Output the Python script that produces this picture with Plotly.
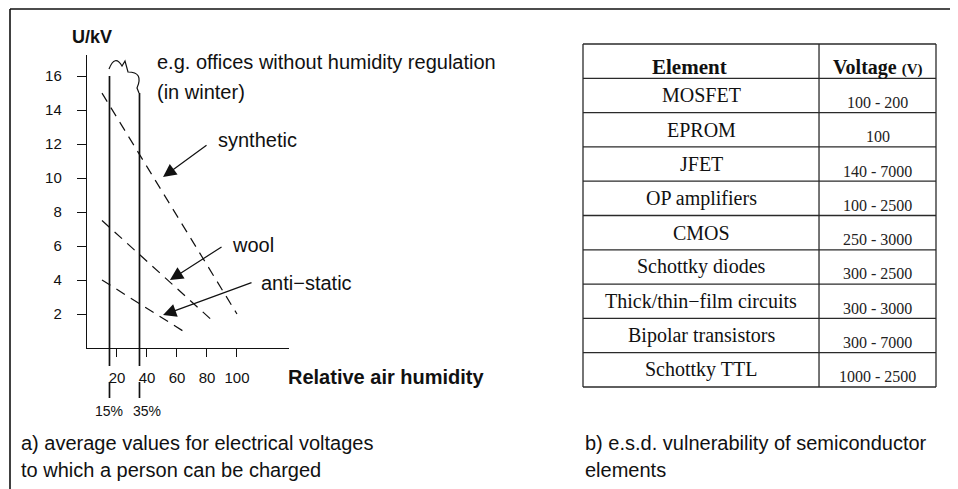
import plotly.graph_objects as go

# ---------------- data ----------------
humidity_ticks = [20, 40, 60, 80, 100]
voltage_ticks = [2, 4, 6, 8, 10, 12, 14, 16]

synthetic_humidity = [10, 100]
synthetic_kv = [15, 2]
wool_humidity = [10, 85]
wool_kv = [7.5, 1.5]
antistatic_humidity = [10, 64]
antistatic_kv = [4, 1]

marker_humidity = [15, 35]
marker_labels = ["15%", "35%"]
marker_top_kv = [16, 15]

curve_labels = ["synthetic", "wool", "anti−static"]
label_pos_humidity = [86, 95.3, 114.7]
label_pos_kv = [12.24, 6.06, 3.82]
arrow_tip_humidity = [50.7, 55.3, 50.7]
arrow_tip_kv = [10.06, 4.0, 1.94]
arrow_tail_humidity = [80.7, 90.7, 110.7]
arrow_tail_kv = [12.0, 6.0, 3.88]

elements = ["MOSFET", "EPROM", "JFET", "OP amplifiers", "CMOS", "Schottky diodes",
            "Thick/thin−film circuits", "Bipolar transistors", "Schottky TTL"]
voltages = ["100 - 200", "100", "140 - 7000", "100 - 2500", "250 - 3000",
            "300 - 2500", "300 - 3000", "300 - 7000", "1000 - 2500"]

# ---------------- layout helpers ----------------
W, H = 958, 489
OFF = 8  # page body margin


def px(x):
    return (x - OFF) / W


def py(y):
    return 1 - (y - OFF) / H


X_RANGE = [0, 134.7]
Y_RANGE = [0, 17.24]
X_DOM = [px(87), px(289)]
Y_DOM = [py(348), py(55)]


def kv_to_paper(v):
    return Y_DOM[0] + (v - Y_RANGE[0]) / (Y_RANGE[1] - Y_RANGE[0]) * (Y_DOM[1] - Y_DOM[0])


SANS = "Liberation Sans, Arial, sans-serif"
SERIF = "Liberation Serif, Times New Roman, serif"
BLACK = "#111111"
FS = 20

fig = go.Figure()

dash = "10px,7px"
for xs, ys, name in [(synthetic_humidity, synthetic_kv, "synthetic"),
                     (wool_humidity, wool_kv, "wool"),
                     (antistatic_humidity, antistatic_kv, "anti-static")]:
    fig.add_trace(go.Scatter(x=xs, y=ys, mode="lines", name=name,
                             line=dict(color=BLACK, width=1.2, dash=dash),
                             hoverinfo="skip", showlegend=False,
                             xaxis="x", yaxis="y"))

shapes = []
annotations = []

# outer frame (top and left)
shapes.append(dict(type="line", xref="paper", yref="paper", x0=px(10), x1=1.0,
                   y0=py(9), y1=py(9), line=dict(color=BLACK, width=1.6)))
shapes.append(dict(type="line", xref="paper", yref="paper", x0=px(10), x1=px(10),
                   y0=py(9), y1=0, line=dict(color=BLACK, width=1.6)))

# humidity marker lines
for hx, top, lab, xs in zip(marker_humidity, marker_top_kv, marker_labels, [0, 8]):
    shapes.append(dict(type="line", xref="x", yref="paper", x0=hx, x1=hx,
                       y0=py(366), y1=kv_to_paper(top), line=dict(color=BLACK, width=1.7)))
    shapes.append(dict(type="line", xref="x", yref="paper", x0=hx, x1=hx,
                       y0=py(382), y1=py(398), line=dict(color=BLACK, width=1.7)))
    annotations.append(dict(x=hx, y=py(411), xref="x", yref="paper", text=lab,
                            showarrow=False, xshift=xs, yanchor="middle",
                            font=dict(family=SANS, size=14, color=BLACK)))

# cloud (winter offices)
cloud_pts = [(109, 69), (115, 54), (122, 66), (125, 61), (128, 72), (144, 72), (137, 88), (139, 93)]
p = [(px(a), py(b)) for a, b in cloud_pts]
cloud_path = (f"M {p[0][0]},{p[0][1]} Q {p[1][0]},{p[1][1]} {p[2][0]},{p[2][1]} "
              f"L {p[3][0]},{p[3][1]} L {p[4][0]},{p[4][1]} "
              f"Q {p[5][0]},{p[5][1]} {p[6][0]},{p[6][1]} L {p[7][0]},{p[7][1]}")
shapes.append(dict(type="path", xref="paper", yref="paper", path=cloud_path,
                   line=dict(color=BLACK, width=1.2)))

# curve labels + arrows
for lab, lx, ly, tx, ty, ax, ay in zip(curve_labels, label_pos_humidity, label_pos_kv,
                                       arrow_tip_humidity, arrow_tip_kv,
                                       arrow_tail_humidity, arrow_tail_kv):
    annotations.append(dict(x=lx, y=ly, xref="x", yref="y", text=lab, showarrow=False,
                            xanchor="left", yanchor="middle",
                            font=dict(family=SANS, size=FS, color=BLACK)))
    annotations.append(dict(x=tx, y=ty, xref="x", yref="y", ax=ax, ay=ay,
                            axref="x", ayref="y", text="", showarrow=True,
                            arrowhead=2, arrowsize=2.2, arrowwidth=1.2,
                            arrowcolor=BLACK, standoff=0, startstandoff=0))


def ptext(x, y, text, size=FS):
    return dict(x=px(x), y=py(y), xref="paper", yref="paper", text=text,
                showarrow=False, xanchor="left", yanchor="middle",
                font=dict(family=SANS, size=size, color=BLACK))


annotations += [
    ptext(70, 37, "<b>U/kV</b>", 18),
    ptext(155, 62, "e.g. offices without humidity regulation"),
    ptext(155, 92, "(in winter)"),
    ptext(286, 377, "<b>Relative air humidity</b>"),
    ptext(19, 443, "a) average values for electrical voltages"),
    ptext(19, 470, "to which a person can be charged"),
    ptext(583, 443, "b) e.s.d. vulnerability of semiconductor"),
    ptext(583, 470, "elements"),
]

# ---------------- table (x2/y2) ----------------
n_rows = len(elements) + 1
col_split = 0.6686
pad_x, pad_y = 0.01, 0.1
tbl_left, tbl_right, tbl_top, tbl_bottom = 583, 936, 44, 387
wpx = (tbl_right - tbl_left) * pad_x
hpx = (tbl_bottom - tbl_top) / n_rows * pad_y
X2_DOM = [px(tbl_left - wpx), px(tbl_right + wpx)]
Y2_DOM = [py(tbl_bottom + hpx), py(tbl_top - hpx)]

TBL_LINE = "#2a2a2a"
for k in range(n_rows + 1):
    shapes.append(dict(type="line", xref="x2", yref="y2", x0=0, x1=1, y0=k, y1=k,
                       line=dict(color=TBL_LINE, width=1.3)))
for xv in [0, col_split, 1]:
    shapes.append(dict(type="line", xref="x2", yref="y2", x0=xv, x1=xv, y0=0, y1=n_rows,
                       line=dict(color=TBL_LINE, width=1.3)))

annotations.append(dict(x=col_split / 2, y=0.5, xref="x2", yref="y2", text="<b>Element</b>",
                        showarrow=False, yshift=-6, xshift=-12,
                        font=dict(family=SERIF, size=21, color=BLACK)))
annotations.append(dict(x=(col_split + 1) / 2, y=0.5, xref="x2", yref="y2",
                        text="<b>Voltage <span style='font-size:15px'>(V)</span></b>",
                        showarrow=False, yshift=-6,
                        font=dict(family=SERIF, size=20, color=BLACK)))
for i, (el, vo) in enumerate(zip(elements, voltages)):
    annotations.append(dict(x=col_split / 2, y=i + 1.5, xref="x2", yref="y2", text=el,
                            showarrow=False, font=dict(family=SERIF, size=20, color=BLACK)))
    annotations.append(dict(x=(col_split + 1) / 2, y=i + 1.5, xref="x2", yref="y2", text=vo,
                            showarrow=False, yshift=-7,
                            font=dict(family=SERIF, size=16, color="#222222")))

fig.add_trace(go.Scatter(x=[0.5], y=[5], mode="markers", marker=dict(opacity=0),
                         hoverinfo="skip", showlegend=False, xaxis="x2", yaxis="y2"))

fig.update_layout(
    width=W, height=H,
    margin=dict(l=0, r=0, t=0, b=0),
    paper_bgcolor="white", plot_bgcolor="white",
    showlegend=False,
    xaxis=dict(domain=X_DOM, range=X_RANGE, showline=True, linecolor=BLACK, linewidth=1.4,
               ticks="outside", ticklen=8, tickwidth=1.2, tickcolor=BLACK,
               tickvals=humidity_ticks, ticktext=[str(v) for v in humidity_ticks],
               ticklabelstandoff=8,
               tickfont=dict(family=SANS, size=15, color=BLACK),
               showgrid=False, zeroline=False, fixedrange=True, anchor="y"),
    yaxis=dict(domain=Y_DOM, range=Y_RANGE, showline=True, linecolor=BLACK, linewidth=1.4,
               ticks="outside", ticklen=9, tickwidth=1.2, tickcolor=BLACK,
               tickvals=voltage_ticks, ticktext=[str(v) for v in voltage_ticks],
               ticklabelstandoff=12,
               tickfont=dict(family=SANS, size=15, color=BLACK),
               showgrid=False, zeroline=False, fixedrange=True, anchor="x"),
    xaxis2=dict(domain=X2_DOM, range=[-pad_x, 1 + pad_x], visible=False, fixedrange=True,
                anchor="y2"),
    yaxis2=dict(domain=Y2_DOM, range=[n_rows + pad_y, -pad_y], visible=False, fixedrange=True,
                anchor="x2"),
    shapes=shapes,
    annotations=annotations,
)

fig.write_html("out.html")
